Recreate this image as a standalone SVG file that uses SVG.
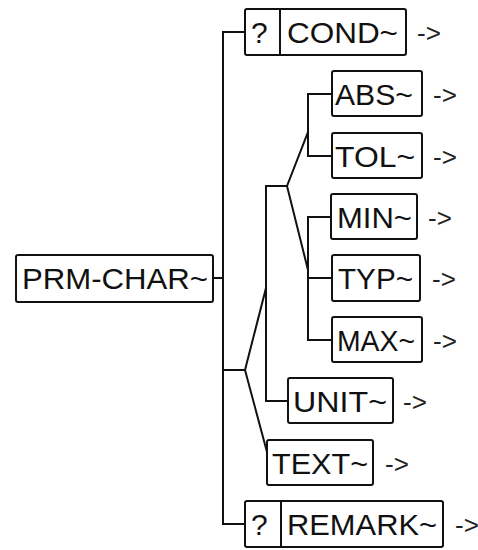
<svg xmlns="http://www.w3.org/2000/svg" width="478" height="550" viewBox="0 0 478 550">
<style>
.box{fill:#fff;stroke:#111;stroke-width:2}
.lbl{font-family:"Liberation Sans",Arial,sans-serif;font-size:30px;fill:#111}
.arr{font-family:"Liberation Sans",Arial,sans-serif;font-size:26px;fill:#222}
.con{stroke:#111;stroke-width:2;fill:none;stroke-linecap:square}
</style>
<rect width="478" height="550" fill="#fff"/>
<g id="connectors">
<line class="con" x1="213" y1="278" x2="223" y2="278"/>
<line class="con" x1="223" y1="32" x2="223" y2="524"/>
<line class="con" x1="223" y1="32" x2="245" y2="32"/>
<line class="con" x1="223" y1="524" x2="245" y2="524"/>
<line class="con" x1="223" y1="370" x2="245" y2="370"/>
<line class="con" x1="245" y1="370" x2="266" y2="288"/>
<line class="con" x1="245" y1="370" x2="267" y2="452"/>
<polyline class="con" points="287,186 266,186 266,401 288,401"/>
<line class="con" x1="287" y1="186" x2="308" y2="132"/>
<line class="con" x1="287" y1="186" x2="308" y2="270"/>
<polyline class="con" points="332,94 308,94 308,156 332,156"/>
<polyline class="con" points="331,217 308,217 308,340 332,340"/>
<line class="con" x1="308" y1="278" x2="332" y2="278"/>
</g>
<g id="prm-char">
<rect class="box" x="16" y="255" width="197" height="47" rx="2"/>
<text class="lbl" x="22" y="289" textLength="186" lengthAdjust="spacingAndGlyphs">PRM-CHAR~</text>
</g>
<g id="cond">
<rect class="box" x="245" y="9" width="161" height="46" rx="2"/>
<line class="con" x1="280" y1="9" x2="280" y2="55"/>
<text class="lbl" x="251" y="43">?</text>
<text class="lbl" x="287" y="43" textLength="111" lengthAdjust="spacingAndGlyphs">COND~</text>
<text class="arr" x="417" y="42">-&gt;</text>
</g>
<g id="abs">
<rect class="box" x="332" y="71" width="90" height="45" rx="2"/>
<text class="lbl" x="335" y="105" textLength="78" lengthAdjust="spacingAndGlyphs">ABS~</text>
<text class="arr" x="433" y="104">-&gt;</text>
</g>
<g id="tol">
<rect class="box" x="332" y="133" width="90" height="45" rx="2"/>
<text class="lbl" x="335" y="167" textLength="80" lengthAdjust="spacingAndGlyphs">TOL~</text>
<text class="arr" x="433" y="166">-&gt;</text>
</g>
<g id="min">
<rect class="box" x="331" y="194" width="86" height="45" rx="2"/>
<text class="lbl" x="337" y="228" textLength="75" lengthAdjust="spacingAndGlyphs">MIN~</text>
<text class="arr" x="428" y="227">-&gt;</text>
</g>
<g id="typ">
<rect class="box" x="332" y="255" width="88" height="46" rx="2"/>
<text class="lbl" x="338" y="289" textLength="75" lengthAdjust="spacingAndGlyphs">TYP~</text>
<text class="arr" x="432" y="288">-&gt;</text>
</g>
<g id="max">
<rect class="box" x="332" y="317" width="90" height="45" rx="2"/>
<text class="lbl" x="337" y="351" textLength="78" lengthAdjust="spacingAndGlyphs">MAX~</text>
<text class="arr" x="433" y="350">-&gt;</text>
</g>
<g id="unit">
<rect class="box" x="288" y="378" width="105" height="45" rx="2"/>
<text class="lbl" x="293" y="412" textLength="94" lengthAdjust="spacingAndGlyphs">UNIT~</text>
<text class="arr" x="403" y="411">-&gt;</text>
</g>
<g id="text">
<rect class="box" x="267" y="440" width="106" height="45" rx="2"/>
<text class="lbl" x="272" y="474" textLength="96" lengthAdjust="spacingAndGlyphs">TEXT~</text>
<text class="arr" x="385" y="473">-&gt;</text>
</g>
<g id="remark">
<rect class="box" x="245" y="501" width="198" height="46" rx="2"/>
<line class="con" x1="281" y1="501" x2="281" y2="547"/>
<text class="lbl" x="251" y="535">?</text>
<text class="lbl" x="287" y="535" textLength="150" lengthAdjust="spacingAndGlyphs">REMARK~</text>
<text class="arr" x="455" y="534">-&gt;</text>
</g>
</svg>
